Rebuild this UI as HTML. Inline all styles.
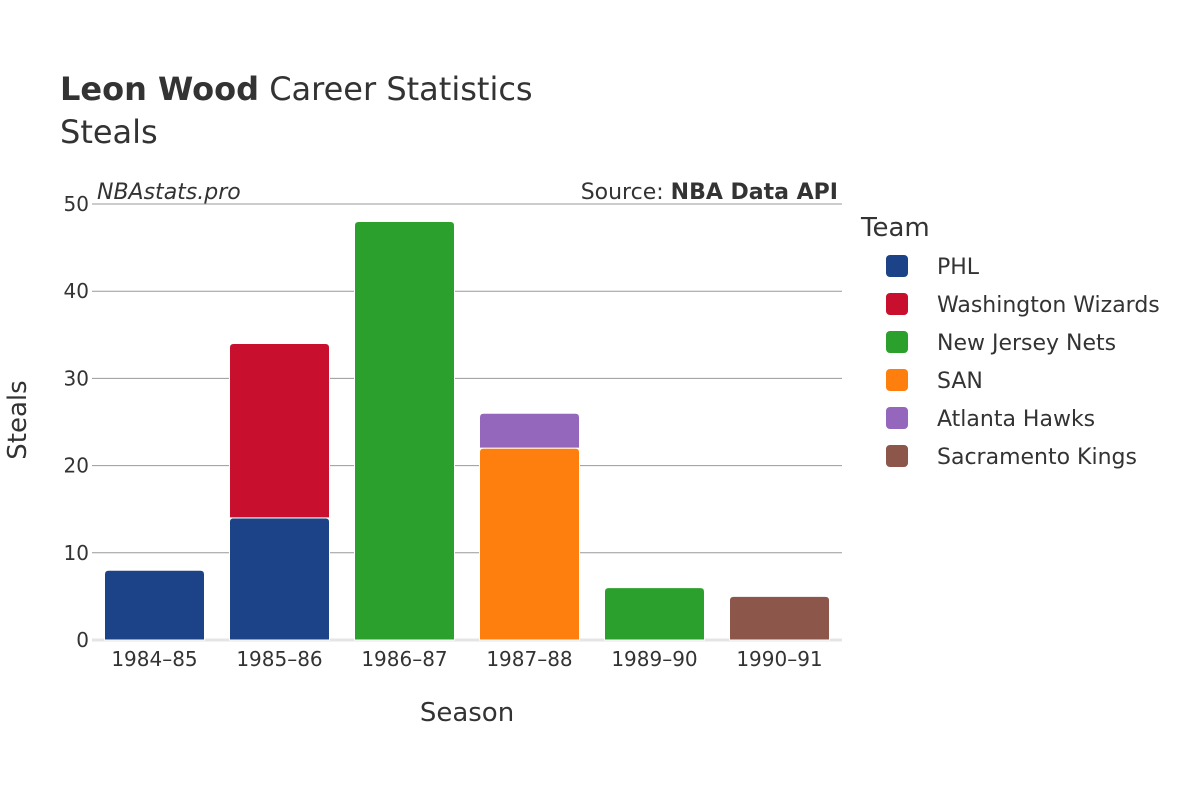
<!DOCTYPE html>
<html><head><meta charset="utf-8"><style>
body{margin:0;background:#fff;}
svg{font-family:"DejaVu Sans","Liberation Sans",sans-serif;}
</style></head><body>
<svg id="chart" width="1200" height="800" viewBox="0 0 1200 800">
<text x="60" y="100" font-size="32" fill="#333"><tspan font-weight="bold">Leon Wood</tspan> Career Statistics</text>
<text x="60" y="143" font-size="32" fill="#333">Steals</text>
<text x="97" y="199" font-size="22" font-style="italic" fill="#333">NBAstats.pro</text>
<text x="838" y="199" font-size="22" fill="#333" text-anchor="end">Source: <tspan font-weight="bold">NBA Data API</tspan></text>
<g id="grid"></g>
<g id="bars"></g>
<g id="xticks"></g>
<text x="467" y="721" font-size="26" fill="#333" text-anchor="middle">Season</text>
<text transform="translate(26,420) rotate(-90)" font-size="26" fill="#333" text-anchor="middle">Steals</text>
<g id="legend"></g>
</svg>
<script>
const seasons=["1984–85","1985–86","1986–87","1987–88","1989–90","1990–91"];
const teams=["PHL","Washington Wizards","New Jersey Nets","SAN","Atlanta Hawks","Sacramento Kings"];
const colors=["#1c4387","#c8102e","#2ca02c","#ff7f0e","#9467bd","#8c564b"];
const PHL=[8,14,0,0,0,0];
const WAS=[0,20,0,0,0,0];
const NJN=[0,0,48,0,6,0];
const SAN=[0,0,0,22,0,0];
const ATL=[0,0,0,4,0,0];
const SAC=[0,0,0,0,0,5];
const yTicks=[0,10,20,30,40,50];
const series=[PHL,WAS,NJN,SAN,ATL,SAC];
const NS="http://www.w3.org/2000/svg";
const x0=92,x1=842,yBase=640,yTop=204,yMax=50;
const y=v=>yBase-(v/yMax)*(yBase-yTop);
const band=(x1-x0)/seasons.length;
const xc=i=>x0+band*(i+0.5);
const bw=band*0.8;
function mk(tag,attrs,parent){const e=document.createElementNS(NS,tag);for(const k in attrs)e.setAttribute(k,attrs[k]);parent.appendChild(e);return e;}
const grid=document.getElementById('grid');
yTicks.forEach(t=>{
  const l=mk('line',{x1:x0,x2:x1,y1:y(t),y2:y(t),stroke:t===0?'#e5e5e5':'#999','stroke-width':t===0?3:1},grid);
  
  
  const tx=mk('text',{x:x0-3,y:y(t)+7,'font-size':20,fill:'#333','text-anchor':'end'},grid);
  tx.textContent=t;
  
  
});
const bars=document.getElementById('bars');
function barPath(xl,yt,w,h,r){r=Math.min(r,h/2,w/2);return `M${xl},${yt+h}V${yt+r}Q${xl},${yt} ${xl+r},${yt}H${xl+w-r}Q${xl+w},${yt} ${xl+w},${yt+r}V${yt+h}Z`;}
seasons.forEach((s,i)=>{
  let acc=0;
  series.forEach((arr,k)=>{
    const v=arr[i]; if(!v)return;
    const yt=y(acc+v),yb=y(acc);
    const p=mk('path',{d:barPath(xc(i)-bw/2,yt,bw,yb-yt-(acc>0?0:0),4),fill:colors[k],stroke:'#fff','stroke-width':1},bars);
    
    
    acc+=v;
  });
  const tx=mk('text',{x:xc(i),y:666,'font-size':20,fill:'#333','text-anchor':'middle'},document.getElementById('xticks'));
  tx.textContent=s;
  
  
});
const lg=document.getElementById('legend');
const lt=mk('text',{x:861,y:236,'font-size':26,fill:'#333'},lg);
lt.textContent='Team';


teams.forEach((t,k)=>{
  const g=mk('g',{},lg);
  
  
  const cy=266+38*k;
  mk('rect',{x:886,y:cy-11,width:22,height:22,rx:4,fill:colors[k]},g);
  const tx=mk('text',{x:937,y:cy+8,'font-size':22,fill:'#333'},g);
  tx.textContent=t;
});
</script>
</body></html>
